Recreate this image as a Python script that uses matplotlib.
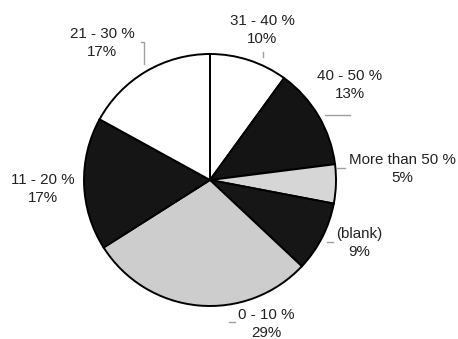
import matplotlib.pyplot as plt

# share of respondents by range, clockwise from 12 o'clock
categories = ["31 - 40 %", "40 - 50 %", "More than 50 %", "(blank)",
              "0 - 10 %", "11 - 20 %", "21 - 30 %"]
shares = [10, 13, 5, 9, 29, 17, 17]

colors = ["white", "#141414", "#d6d6d6", "#161616", "#cdcdcd", "#151515", "white"]

W, H = 458, 339
fig = plt.figure(figsize=(W / 100, H / 100), dpi=100)
ax = fig.add_axes([0, 0, 1, 1])

ax.pie(shares, colors=colors, startangle=90, counterclock=False,
       center=(210, H - 180), radius=126, frame=True,
       wedgeprops=dict(edgecolor="black", linewidth=1.4))
ax.set_xlim(0, W)
ax.set_ylim(0, H)
ax.set_aspect("equal")
ax.axis("off")

# label anchors (pixels from top-left) and their little leader ticks
label_xy = [(262, 30), (350, 85), (402, 169), (359, 243),
            (266, 324), (43, 189), (102, 43)]
leaders = [
    [(263, 52), (263, 57)],
    [(325, 115), (350, 115)],
    [(337, 168), (345, 168)],
    [(327, 242), (333, 242)],
    [(229, 322), (235, 322)],
    [],
    [(141, 42), (144, 42), (144, 64)],
]

for cat, val, (x, y), seg in zip(categories, shares, label_xy, leaders):
    ax.text(x, H - y, f"{cat}\n{val}%", ha="center", va="center",
            fontsize=10.9, family="Liberation Sans", color="#222222",
            linespacing=1.3)
    if seg:
        xs = [p[0] for p in seg]
        ys = [H - p[1] for p in seg]
        ax.plot(xs, ys, color="#a0a0a0", linewidth=1)

fig.savefig("out.png", dpi=100, facecolor="white")
